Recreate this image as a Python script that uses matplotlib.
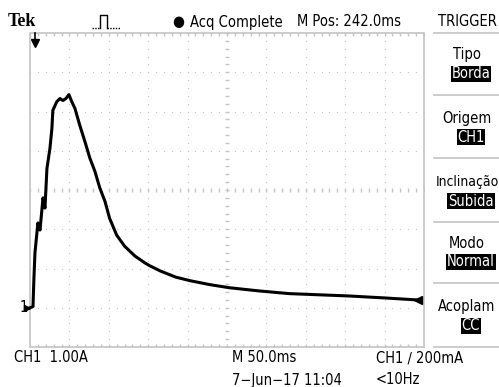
import numpy as np
import matplotlib.pyplot as plt
from matplotlib.patches import Rectangle

W, H = 499, 387

# trace: time (ms from left edge), current (A)
t_ms = [0, 3.8, 5.0, 6.3, 10.0, 12.7, 16.5, 19.0, 21.5, 25.3, 27.8, 29.0, 34.0,
        38.0, 41.8, 45.6, 49.4, 53.0, 57.0, 63.3, 69.6, 76.0, 82.3, 88.6, 95.0,
        101.0, 110.0, 120.0, 133.0, 146.0, 152.0, 165.0, 185.0, 203.0, 228.0,
        253.0, 290.0, 329.0, 367.0, 405.0, 450.0, 491.0]
i_amp = [0.0, 0.03, 0.76, 1.40, 2.16, 1.98, 2.80, 2.54, 3.55, 4.06, 4.57, 5.03,
         5.25, 5.33, 5.28, 5.33, 5.43, 5.25, 5.08, 4.64, 4.24, 3.81, 3.48, 3.05,
         2.72, 2.28, 1.85, 1.57, 1.32, 1.14, 1.07, 0.94, 0.78, 0.69, 0.59,
         0.51, 0.43, 0.36, 0.33, 0.30, 0.25, 0.20]

top_left = "Tek"
acq_status = "Acq Complete"
m_pos = "M Pos: 242.0ms"
menu_title = "TRIGGER"
menu_items = [("Tipo", "Borda"), ("Origem", "CH1"), ("Inclinação", "Subida"),
              ("Modo", "Normal"), ("Acoplam", "CC")]
bottom_row1 = ["CH1  1.00A", "M 50.0ms", "CH1 \u2215 200mA"]
bottom_row2 = ["7\u2212Jun\u221217 11:04", "<10Hz"]

plt.rcParams['font.family'] = ['DejaVu Sans']
plt.rcParams['font.stretch'] = 'condensed'

fig = plt.figure(figsize=(W / 100, H / 100), dpi=100)
fig.patch.set_facecolor('white')

# screen area: 10 x 8 divisions
x0, x1, y0, y1 = 30, 424, 33, 347
ax = fig.add_axes([x0 / W, 1 - y1 / H, (x1 - x0) / W, (y1 - y0) / H])
ax.set_xlim(0, 500)
ax.set_ylim(-1, 7)
ax.axis('off')

g = '#c4c4c4'
ys = np.arange(-1, 7.01, 0.2)
xs = np.arange(0, 500.1, 10)
# dotted graticule
for k in range(1, 10):
    if k == 5:
        continue
    ax.plot(np.full_like(ys, 50 * k), ys, ls='none', marker='s', ms=0.8, color=g, mec='none')
for k in range(1, 8):
    if k == 4:
        continue
    ax.plot(xs, np.full_like(xs, k - 1), ls='none', marker='s', ms=0.8, color=g, mec='none')
# center cross with small ticks
ax.plot(np.full_like(ys, 250), ys, ls='none', marker='_', ms=3, mew=1, color=g)
ax.plot(xs, np.full_like(xs, 3), ls='none', marker='|', ms=3, mew=1, color=g)
# frame with inward ticks
ax.add_patch(Rectangle((0, -1), 500, 8, fill=False, ec=g, lw=1.2, clip_on=False))
ax.plot(xs, np.full_like(xs, 7), ls='none', marker=3, ms=2.5, color=g, mew=1)
ax.plot(xs, np.full_like(xs, -1), ls='none', marker=2, ms=2.5, color=g, mew=1)
ax.plot(np.full_like(ys, 0), ys, ls='none', marker=0, ms=2.5, color=g, mew=1)
ax.plot(np.full_like(ys, 500), ys, ls='none', marker=1, ms=2.5, color=g, mew=1)

# trace
ax.plot(t_ms, i_amp, color='black', lw=2.2, solid_joinstyle='round', clip_on=False)

# markers: trigger position, ground, trigger level
ax.plot([6], [6.75], marker='v', ms=6, color='black', clip_on=False)
ax.plot([6, 6], [6.75, 7.0], color='black', lw=1.2, clip_on=False)
ax.text(-3, 0, "1", ha='right', va='center', fontsize=10.5, clip_on=False)
ax.plot([-4], [0], marker='>', ms=4, color='black', clip_on=False)
ax.plot([493], [0.2], marker='<', ms=6, color='black', clip_on=False)

def ftext(x, y, s, **kw):
    fig.text(x / W, 1 - y / H, s, **kw)

def fline(px, py, **kw):
    fig.add_artist(plt.Line2D([p / W for p in px], [1 - p / H for p in py], **kw))

ftext(8, 22, top_left, fontsize=13, fontweight='bold', family='Liberation Serif',
      stretch='normal', va='center')
# acquisition pulse icon
fline([92, 100], [28, 28], color='black', lw=1, ls=(0, (1, 1)))
fline([100, 100, 107, 107], [28, 15, 15, 28], color='black', lw=1)
fline([107, 120], [28, 28], color='black', lw=1, ls=(0, (1, 1)))
ftext(178, 22, "\u25cf", fontsize=11, va='center', ha='center')
ftext(190, 22, acq_status, fontsize=10.5, va='center')
ftext(297, 22, m_pos, fontsize=10.5, va='center')
ftext(467, 22, menu_title, fontsize=10.5, va='center', ha='center')

# right menu
fline([434, 499], [33, 33], color=g, lw=1.2)
label_y = [55, 118, 182, 243, 307]
for (lab, val), yy in zip(menu_items, label_y):
    ftext(467, yy, lab, fontsize=10 if len(lab) > 8 else 10.5, va='center', ha='center')
    ftext(471, yy + 19, val, fontsize=10.5, va='center', ha='center', color='white',
          bbox=dict(boxstyle='square,pad=0.05', fc='black', ec='none'))
for yy in [95, 158, 222, 283, 347]:
    fline([434, 499], [yy, yy], color=g, lw=1.2)

# bottom readouts
ftext(14, 358, bottom_row1[0], fontsize=10.5, va='center')
ftext(232, 358, bottom_row1[1], fontsize=10.5, va='center')
ftext(376, 358, bottom_row1[2], fontsize=10.5, va='center')
ftext(232, 380, bottom_row2[0], fontsize=10.5, va='center')
ftext(376, 380, bottom_row2[1], fontsize=10.5, va='center')

fig.savefig('out.png', dpi=100)
